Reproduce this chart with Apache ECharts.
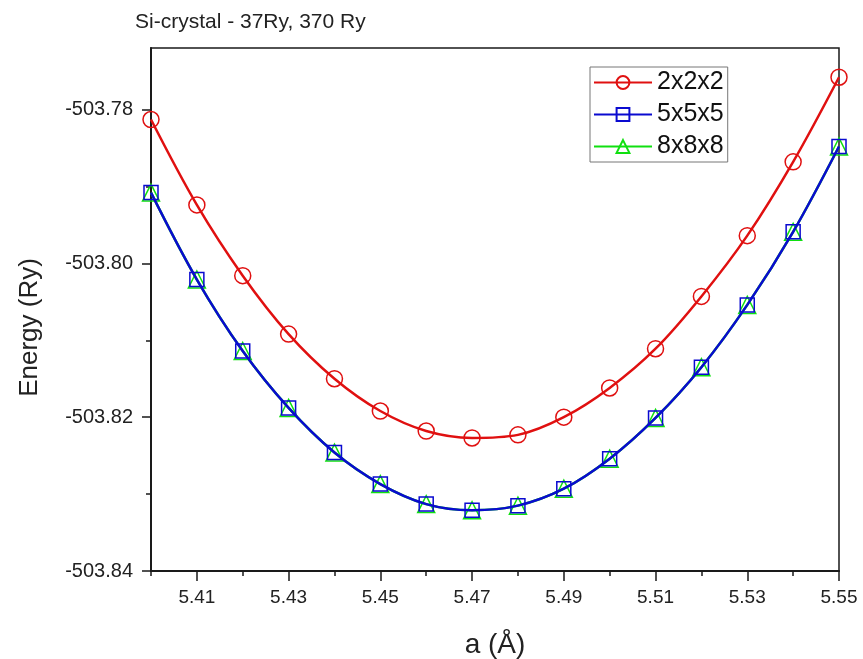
<!DOCTYPE html>
<html>
<head>
<meta charset="utf-8">
<script src="https://cdn.jsdelivr.net/npm/echarts@6/dist/echarts.min.js"></script>
<style>html,body{margin:0;padding:0;background:#fff;}#c{width:863px;height:659px;}</style>
</head>
<body>
<div id="c"></div>
<script>
var latticeA = [5.40, 5.41, 5.42, 5.43, 5.44, 5.45, 5.46, 5.47, 5.48, 5.49, 5.50, 5.51, 5.52, 5.53, 5.54, 5.55];
var energy222 = [-503.7813, -503.7924, -503.8016, -503.8092, -503.8150, -503.8192, -503.8218, -503.8227, -503.8223, -503.8200, -503.8162, -503.8111, -503.8043, -503.7964, -503.7868, -503.7758];
var energy555 = [-503.7908, -503.8021, -503.8114, -503.8188, -503.8246, -503.8287, -503.8313, -503.8321, -503.8315, -503.8293, -503.8254, -503.8201, -503.8135, -503.8054, -503.7959, -503.7848];
var energy888 = [-503.7908, -503.8021, -503.8114, -503.8188, -503.8246, -503.8287, -503.8313, -503.8321, -503.8315, -503.8293, -503.8254, -503.8201, -503.8135, -503.8054, -503.7959, -503.7848];
var seriesNames = ['2x2x2', '5x5x5', '8x8x8'];
var xMajorTicks = [5.41, 5.43, 5.45, 5.47, 5.49, 5.51, 5.53, 5.55];
var xMinorTicks = [5.40, 5.42, 5.44, 5.46, 5.48, 5.50, 5.52, 5.54];
var yMajorTicks = [-503.84, -503.82, -503.80, -503.78];
var yMinorTicks = [-503.83, -503.81, -503.79];

function pairs(ys) { return latticeA.map(function (x, i) { return [x, ys[i]]; }); }

var FONT = 'Liberation Sans, Arial, sans-serif';
var AX = '#1a1a1a';
var chart = echarts.init(document.getElementById('c'), null, { renderer: 'canvas' });

function mkSeries(name, data, color, symbol, size, z, lw) {
  return {
    name: name, type: 'line', data: pairs(data), smooth: 0.35, z: z,
    symbol: symbol, symbolSize: size, showSymbol: true,
    lineStyle: { color: color, width: lw },
    itemStyle: { color: 'rgba(0,0,0,0)', borderColor: color, borderWidth: 1.5 },
    emphasis: { disabled: true }
  };
}

chart.setOption({
  animation: false,
  backgroundColor: '#fff',
  textStyle: { fontFamily: FONT },
  title: {
    text: 'Si-crystal - 37Ry, 370 Ry', left: 130, top: 7,
    textStyle: { fontFamily: FONT, fontSize: 21, fontWeight: 'normal', color: '#222' }
  },
  legend: {
    data: seriesNames, orient: 'vertical', left: 590, top: 67,
    itemWidth: 58, itemHeight: 16, itemGap: 7,
    padding: [3, 4, 3, 3],
    borderColor: '#777', borderWidth: 1,
    textStyle: { fontFamily: FONT, fontSize: 25, color: '#111', lineHeight: 24, padding: [0, 0, 0, 0] }
  },
  grid: {
    left: 151, right: 24, top: 48, bottom: 88,
    outerBoundsMode: 'none', containLabel: false,
    show: true, borderColor: AX, borderWidth: 1.5, backgroundColor: 'transparent'
  },
  xAxis: [{
    type: 'value', min: 5.40, max: 5.55, position: 'bottom',
    name: 'a (Å)', nameLocation: 'middle', nameGap: 60,
    nameTextStyle: { fontFamily: FONT, fontSize: 28, color: '#222' },
    axisLine: { show: true, lineStyle: { color: AX, width: 2 } },
    axisTick: { show: true, inside: false, length: 10, customValues: xMajorTicks, lineStyle: { color: AX, width: 1.5 } },
    axisLabel: { customValues: xMajorTicks, margin: 17, fontFamily: FONT, fontSize: 19, color: '#222',
      formatter: function (v) { return v.toFixed(2); } },
    splitLine: { show: false }
  }, {
    type: 'value', min: 5.40, max: 5.55, position: 'bottom',
    axisLine: { show: false },
    axisTick: { show: true, inside: false, length: 5, customValues: xMinorTicks, lineStyle: { color: AX, width: 1.5 } },
    axisLabel: { show: false },
    splitLine: { show: false }
  }],
  yAxis: [{
    type: 'value', min: -503.84, max: -503.772, position: 'left',
    name: 'Energy (Ry)', nameLocation: 'middle', nameGap: 108, nameRotate: 90,
    nameTextStyle: { fontFamily: FONT, fontSize: 26, color: '#222', padding: [0, 36, 0, 0] },
    axisLine: { show: true, lineStyle: { color: AX, width: 2 } },
    axisTick: { show: true, inside: false, length: 9, customValues: yMajorTicks, lineStyle: { color: AX, width: 1.5 } },
    axisLabel: { customValues: yMajorTicks, margin: 18, fontFamily: FONT, fontSize: 20, color: '#222',
      formatter: function (v) { return v.toFixed(2); } },
    splitLine: { show: false }
  }, {
    type: 'value', min: -503.84, max: -503.772, position: 'left',
    axisLine: { show: false },
    axisTick: { show: true, inside: false, length: 5, customValues: yMinorTicks, lineStyle: { color: AX, width: 1.5 } },
    axisLabel: { show: false },
    splitLine: { show: false }
  }],
  series: [
    mkSeries(seriesNames[0], energy222, '#e01010', 'circle', 16, 3, 2.5),
    mkSeries(seriesNames[1], energy555, '#0a0ad0', 'rect', 14, 5, 2.5),
    mkSeries(seriesNames[2], energy888, '#10e010', 'triangle', 17, 4, 2.5)
  ]
});
</script>
</body>
</html>
